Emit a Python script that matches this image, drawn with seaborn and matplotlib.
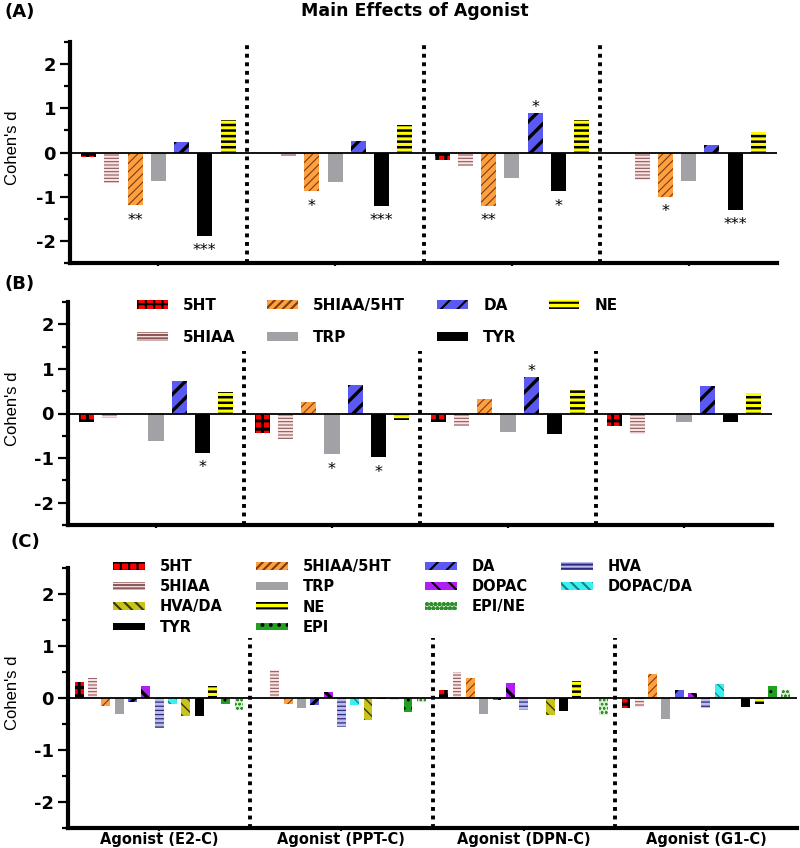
import numpy as np
import pandas as pd
import matplotlib
matplotlib.use("Agg")
import matplotlib.pyplot as plt
import matplotlib.patches as mpatches
from matplotlib.ticker import MultipleLocator
import seaborn as sns

sns.set_theme(style="ticks")
plt.rcParams["font.family"] = ["DejaVu Sans"]
plt.rcParams["font.weight"] = "bold"
plt.rcParams["hatch.linewidth"] = 1.5
plt.rcParams["axes.unicode_minus"] = False
plt.rcParams["text.color"] = "black"
plt.rcParams["axes.labelcolor"] = "black"

# ---------------- data ----------------
groups = ["E2-C", "PPT-C", "DPN-C", "G1-C"]
xtick_labels_c = ["Agonist (E2-C)", "Agonist (PPT-C)", "Agonist (DPN-C)", "Agonist (G1-C)"]

vars_ab = ["5HT", "5HIAA", "5HIAA/5HT", "TRP", "DA", "TYR", "NE"]
vars_c = ["5HT", "5HIAA", "5HIAA/5HT", "TRP", "DA", "DOPAC", "HVA",
          "DOPAC/DA", "HVA/DA", "TYR", "NE", "EPI", "EPI/NE"]

# Panel A: main effects of agonist
a_5HT = [-0.10, 0.00, -0.16, 0.00]
a_5HIAA = [-0.68, -0.08, -0.30, -0.63]
a_5HIAA_5HT = [-1.19, -0.88, -1.20, -1.00]
a_TRP = [-0.65, -0.67, -0.57, -0.65]
a_DA = [0.24, 0.26, 0.90, 0.18]
a_TYR = [-1.88, -1.21, -0.88, -1.29]
a_NE = [0.74, 0.62, 0.73, 0.47]
a_stars = {"5HIAA/5HT": ["**", "*", "**", "*"],
           "TYR": ["***", "***", "*", "***"],
           "DA": ["", "", "*", ""]}

# Panel B
b_5HT = [-0.20, -0.43, -0.20, -0.29]
b_5HIAA = [-0.10, -0.58, -0.29, -0.47]
b_5HIAA_5HT = [0.00, 0.25, 0.32, 0.00]
b_TRP = [-0.62, -0.91, -0.42, -0.19]
b_DA = [0.72, 0.64, 0.82, 0.61]
b_TYR = [-0.88, -0.98, -0.45, -0.18]
b_NE = [0.48, -0.15, 0.52, 0.46]
b_stars = {"TYR": ["*", "*", "", ""],
           "TRP": ["", "*", "", ""],
           "DA": ["", "", "*", ""]}

# Panel C
c_5HT = [0.30, 0.00, 0.15, -0.19]
c_5HIAA = [0.38, 0.53, 0.50, -0.18]
c_5HIAA_5HT = [-0.15, -0.12, 0.38, 0.47]
c_TRP = [-0.31, -0.19, -0.31, -0.40]
c_DA = [-0.08, -0.13, -0.04, 0.15]
c_DOPAC = [0.24, 0.12, 0.29, 0.10]
c_HVA = [-0.58, -0.56, -0.24, -0.19]
c_DOPAC_DA = [-0.12, -0.14, 0.00, 0.26]
c_HVA_DA = [-0.35, -0.42, -0.33, 0.00]
c_TYR = [-0.35, -0.02, -0.25, -0.17]
c_NE = [0.24, -0.04, 0.33, -0.12]
c_EPI = [-0.12, -0.26, 0.00, 0.24]
c_EPI_NE = [-0.24, -0.07, -0.33, 0.15]

panel_a = dict(zip(vars_ab, [a_5HT, a_5HIAA, a_5HIAA_5HT, a_TRP, a_DA, a_TYR, a_NE]))
panel_b = dict(zip(vars_ab, [b_5HT, b_5HIAA, b_5HIAA_5HT, b_TRP, b_DA, b_TYR, b_NE]))
panel_c = dict(zip(vars_c, [c_5HT, c_5HIAA, c_5HIAA_5HT, c_TRP, c_DA, c_DOPAC, c_HVA,
                            c_DOPAC_DA, c_HVA_DA, c_TYR, c_NE, c_EPI, c_EPI_NE]))

legend_c_order = ["5HT", "5HIAA", "HVA/DA", "TYR",
                  "5HIAA/5HT", "TRP", "NE", "EPI",
                  "DA", "DOPAC", "EPI/NE", None,
                  "HVA", "DOPAC/DA", None, None]

# ---------------- styles ----------------
# name: (face, hatch colour, hatch, hatch linewidth)
STYLE = {
    "5HT": ("#ff0000", "#000000", "++", 2.2),
    "5HIAA": ("#fbe3e3", "#8c5a5a", "-----", 0.8),
    "5HIAA/5HT": ("#ffa040", "#7a3d10", "////", 0.8),
    "TRP": ("#a2a2a6", "#a2a2a6", "", 0.5),
    "DA": ("#5a5af2", "#000000", "//", 2.4),
    "TYR": ("#000000", "#000000", "", 0.5),
    "NE": ("#ffff00", "#000000", "---", 1.8),
    "DOPAC": ("#b01ef2", "#000000", "\\\\", 2.4),
    "HVA": ("#bcbcf2", "#2c2c78", "----", 0.9),
    "DOPAC/DA": ("#3cf0f0", "#168080", "\\\\\\", 0.9),
    "HVA/DA": ("#c8c41c", "#3a3800", "\\\\\\", 1.0),
    "EPI": ("#22a022", "#000000", "..", 1.0),
    "EPI/NE": ("#d6f0cc", "#2f8f2f", "oooo", 0.6),
}


def style_patch(p, name):
    face, hc, hatch, hlw = STYLE[name]
    p.set_facecolor(face)
    p.set_edgecolor(hc)
    p.set_linewidth(0)
    p.set_hatch(hatch if hatch else None)
    if hasattr(p, "set_hatch_linewidth"):
        p.set_hatch_linewidth(hlw)


def draw_panel(ax, data, var_order, width, gap, stars, div_top, xlabels):
    rows = []
    for v in var_order:
        for g, val in zip(groups, data[v]):
            rows.append({"group": g, "var": v, "value": val})
    df = pd.DataFrame(rows)
    sns.barplot(data=df, x="group", y="value", hue="var", order=groups,
                hue_order=var_order, palette={v: STYLE[v][0] for v in var_order},
                width=width, gap=gap, saturation=1, errorbar=None, legend=False,
                ax=ax, zorder=2)
    for cont, v in zip(ax.containers, var_order):
        for p in cont:
            style_patch(p, v)

    # significance stars
    n = len(var_order)
    slot = width / n
    for v, marks in stars.items():
        k = var_order.index(v)
        for i, s in enumerate(marks):
            if not s:
                continue
            val = data[v][i]
            x = i - width / 2 + slot * (k + 0.5)
            dy = 0.5 if val > 0 else -14.0
            ax.annotate(s, (x, val), xytext=(0, dy), textcoords="offset points",
                        ha="center", va="baseline", fontsize=11.5,
                        fontweight="normal", color="black")

    ax.axhline(0, color="black", lw=1.3, zorder=3)
    ax.vlines([0.5, 1.5, 2.5], -2.5, div_top, colors="black",
              linestyles=(0, (1, 1.2)), lw=2.8, zorder=3, clip_on=False)

    ax.set_xlim(-0.5, 3.5)
    ax.set_ylim(-2.5, 2.5)
    ax.set_yticks([-2, -1, 0, 1, 2])
    ax.yaxis.set_minor_locator(MultipleLocator(0.5))
    ax.set_xticks(range(4))
    ax.set_xticklabels(xlabels)
    ax.set_xlabel("")
    ax.set_ylabel("Cohen's d", family=["Liberation Sans Narrow", "Liberation Sans"],
                  fontweight="normal", fontsize=12, color="black")
    for s in ["top", "right"]:
        ax.spines[s].set_visible(False)
    for s in ["left", "bottom"]:
        ax.spines[s].set_linewidth(3)
        ax.spines[s].set_color("black")
    ax.tick_params(axis="y", which="major", length=7, width=1.6, labelsize=13,
                   pad=3, colors="black")
    ax.tick_params(axis="y", which="minor", length=4.5, width=1.6, colors="black")
    ax.tick_params(axis="x", which="major", length=2.5, width=1.6, labelsize=10.5,
                   pad=0.5, colors="black")
    for t in ax.get_yticklabels():
        t.set_fontweight("bold")
    for t in ax.get_xticklabels():
        t.set_fontweight("bold")


W, H = 800, 848
fig = plt.figure(figsize=(W / 100, H / 100), dpi=100)


def axes_px(left, right, top, bottom):
    return fig.add_axes([left / W, 1 - bottom / H, (right - left) / W, (bottom - top) / H])


axA = axes_px(70, 777, 42, 263)
axB = axes_px(68, 772, 302, 525)
axC = axes_px(68, 797, 568, 828)

draw_panel(axA, panel_a, vars_ab, 0.92, 0.35, a_stars, 2.5, [""] * 4)
draw_panel(axB, panel_b, vars_ab, 0.92, 0.35, b_stars, 1.4, [""] * 4)
draw_panel(axC, panel_c, vars_c, 0.95, 0.33, {}, 1.15, xtick_labels_c)

for ax, left, right in [(axA, 70, 777), (axB, 68, 772), (axC, 68, 797)]:
    ax.yaxis.set_label_coords((20 - left) / (right - left), 0.52)


def make_handle(name):
    p = mpatches.Patch(label=name)
    style_patch(p, name)
    return p


# legend B
hb = [make_handle(v) for v in vars_ab]
axB.legend(hb, vars_ab, ncol=4, loc="upper left",
           bbox_to_anchor=(137 / W, 1 - 298 / H), bbox_transform=fig.transFigure,
           frameon=False, prop={"size": 11, "weight": "bold"},
           handlelength=2.0, handleheight=0.55, handletextpad=1.0,
           columnspacing=2.1, labelspacing=1.1, borderpad=0, borderaxespad=0)

# legend C
hc, lc = [], []
for v in legend_c_order:
    if v is None:
        hc.append(mpatches.Patch(facecolor="none", edgecolor="none", linewidth=0))
        lc.append("")
    else:
        hc.append(make_handle(v))
        lc.append(v)
axC.legend(hc, lc, ncol=4, loc="upper left",
           bbox_to_anchor=(113 / W, 1 - 559 / H), bbox_transform=fig.transFigure,
           frameon=False, prop={"size": 10.5, "weight": "bold"},
           handlelength=2.2, handleheight=0.45, handletextpad=1.0,
           columnspacing=2.3, labelspacing=0.36, borderpad=0, borderaxespad=0)

# titles and panel labels
fig.text(415 / W, 1 - 11 / H, "Main Effects of Agonist", ha="center", va="center",
         fontsize=12.5, fontweight="bold")
fig.text(5 / W, 1 - 12 / H, "(A)", ha="left", va="center", fontsize=13, fontweight="bold")
fig.text(5 / W, 1 - 284 / H, "(B)", ha="left", va="center", fontsize=13, fontweight="bold")
fig.text(10 / W, 1 - 542 / H, "(C)", ha="left", va="center", fontsize=13, fontweight="bold")

fig.savefig("out.png", dpi=100)
